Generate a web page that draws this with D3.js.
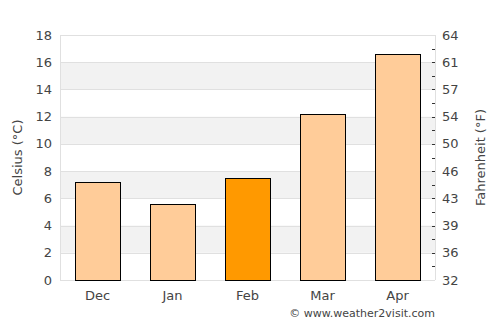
<!DOCTYPE html>
<html>
<head>
<meta charset="utf-8">
<script src="https://cdn.jsdelivr.net/npm/d3@7"></script>
<style>
  body { margin: 0; background: #fff; }
  text { font-family: "DejaVu Sans", sans-serif; }
</style>
</head>
<body>
<div id="chart"></div>
<script>
// data
const months = ['Dec', 'Jan', 'Feb', 'Mar', 'Apr'];
const temps = [7.2, 5.6, 7.5, 12.2, 16.6];
const highlight = 'Feb';
const celsiusTicks = [0, 2, 4, 6, 8, 10, 12, 14, 16, 18];

const width = 500, height = 325;
const margin = {top: 35, right: 65, bottom: 45, left: 60};

const svg = d3.select('#chart').append('svg')
  .attr('width', width)
  .attr('height', height);

const x = d3.scaleBand()
  .domain(months)
  .range([margin.left, width - margin.right])
  .paddingInner(0.4)
  .paddingOuter(0.2);

const y = d3.scaleLinear()
  .domain([0, 18])
  .range([height - margin.bottom, margin.top]);

// alternating bands
const bands = celsiusTicks.slice(0, -1).filter((d, i) => i % 2 === 1);
svg.selectAll('.band')
  .data(bands)
  .enter().append('rect')
  .attr('x', margin.left)
  .attr('width', width - margin.right - margin.left)
  .attr('y', d => y(d + 2))
  .attr('height', d => y(d) - y(d + 2))
  .attr('fill', '#f2f2f2');

// grid lines
svg.selectAll('.grid')
  .data(celsiusTicks)
  .enter().append('line')
  .attr('x1', margin.left)
  .attr('x2', width - margin.right)
  .attr('y1', d => Math.round(y(d)) + 0.5)
  .attr('y2', d => Math.round(y(d)) + 0.5)
  .attr('stroke', '#e0e0e0');

// frame sides
svg.append('line')
  .attr('x1', margin.left + 0.5).attr('x2', margin.left + 0.5)
  .attr('y1', margin.top).attr('y2', height - margin.bottom)
  .attr('stroke', '#e0e0e0');
svg.append('line')
  .attr('x1', width - margin.right + 0.5).attr('x2', width - margin.right + 0.5)
  .attr('y1', margin.top).attr('y2', height - margin.bottom)
  .attr('stroke', '#e0e0e0');

// bars
svg.selectAll('.bar')
  .data(months)
  .enter().append('rect')
  .attr('x', d => Math.round(x(d)) + 0.5)
  .attr('width', Math.round(x.bandwidth()))
  .attr('y', (d, i) => Math.round(y(temps[i])) + 0.5)
  .attr('height', (d, i) => Math.round(y(0)) - Math.round(y(temps[i])))
  .attr('fill', d => d === highlight ? '#ff9900' : '#ffcc99')
  .attr('stroke', '#000')
  .attr('stroke-width', 1);

// left axis labels
svg.selectAll('.ylab')
  .data(celsiusTicks)
  .enter().append('text')
  .attr('x', margin.left - 8)
  .attr('y', d => y(d))
  .attr('dy', '0.35em')
  .attr('text-anchor', 'end')
  .attr('font-size', 13)
  .attr('fill', '#444')
  .text(d => d);

// right axis: fahrenheit labels at celsius positions
const toF = c => Math.round(c * 9 / 5 + 32);
svg.selectAll('.flab')
  .data(celsiusTicks)
  .enter().append('text')
  .attr('x', width - margin.right + 7)
  .attr('y', d => y(d))
  .attr('dy', '0.35em')
  .attr('font-size', 13)
  .attr('fill', '#444')
  .text(d => toF(d));

// right ticks every degree
svg.selectAll('.ftick')
  .data(d3.range(1, 18))
  .enter().append('line')
  .attr('x1', width - margin.right - 3)
  .attr('x2', width - margin.right)
  .attr('y1', d => Math.round(y(d)) + 0.5)
  .attr('y2', d => Math.round(y(d)) + 0.5)
  .attr('stroke', '#333');

// month labels
svg.selectAll('.xlab')
  .data(months)
  .enter().append('text')
  .attr('x', d => x(d) + x.bandwidth() / 2)
  .attr('y', height - margin.bottom + 20)
  .attr('text-anchor', 'middle')
  .attr('font-size', 13)
  .attr('fill', '#444')
  .text(d => d);

// axis titles
svg.append('text')
  .attr('transform', `translate(22,${(margin.top + height - margin.bottom) / 2}) rotate(-90)`)
  .attr('text-anchor', 'middle')
  .attr('font-size', 13)
  .attr('fill', '#444')
  .text('Celsius (°C)');

svg.append('text')
  .attr('transform', `translate(485,${(margin.top + height - margin.bottom) / 2}) rotate(-90)`)
  .attr('text-anchor', 'middle')
  .attr('font-size', 13)
  .attr('fill', '#444')
  .text('Fahrenheit (°F)');

svg.append('text')
  .attr('x', width - margin.right)
  .attr('y', 317)
  .attr('text-anchor', 'end')
  .attr('font-size', 11)
  .attr('fill', '#444')
  .text('© www.weather2visit.com');
</script>
</body>
</html>
